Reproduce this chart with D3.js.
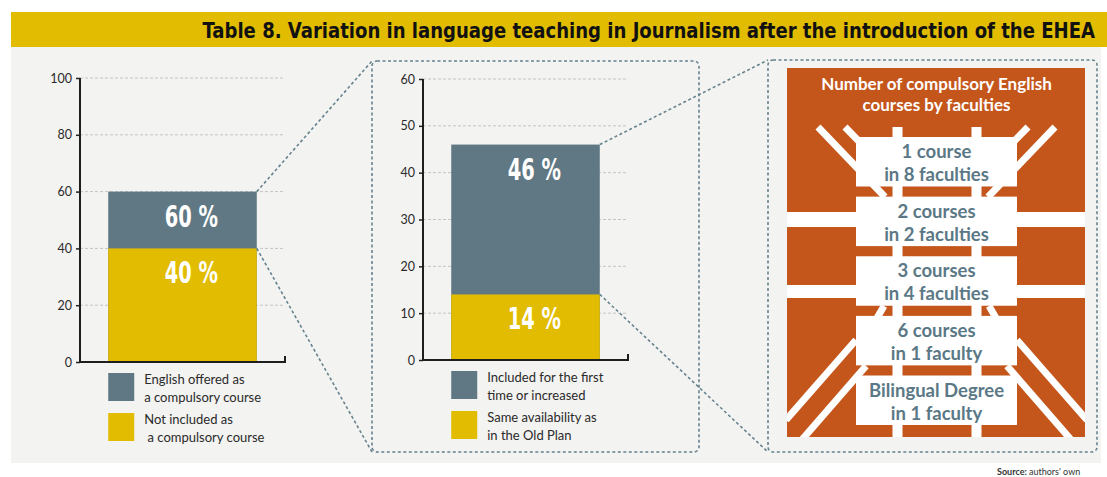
<!DOCTYPE html>
<html>
<head>
<meta charset="utf-8">
<script src="https://cdn.jsdelivr.net/npm/d3@7"></script>
<style>
  html, body { margin: 0; padding: 0; background: #fff; }
  svg { display: block; }
</style>
</head>
<body>
<div id="chart"></div>
<script>
// Data
const titleText = 'Table 8. Variation in language teaching in Journalism after the introduction of the EHEA';
const panel1Series = ['English offered as a compulsory course', 'Not included as a compulsory course'];
const panel1Values = [60, 40];
const panel1Ticks = [0, 20, 40, 60, 80, 100];
const panel1Legend = [['English offered as', 'a compulsory course'], ['Not included as', '\u00a0a compulsory course']];
const panel2Series = ['Included for the first time or increased', 'Same availability as in the Old Plan'];
const panel2Values = [46, 14];
const panel2Ticks = [0, 10, 20, 30, 40, 50, 60];
const panel2Legend = [['Included for the first', 'time or increased'], ['Same availability as', 'in the Old Plan']];
const courseLabels = ['1 course', '2 courses', '3 courses', '6 courses', 'Bilingual Degree'];
const facultyLabels = ['in 8 faculties', 'in 2 faculties', 'in 4 faculties', 'in 1 faculty', 'in 1 faculty'];
const coursesTitle = ['Number of compulsory English', 'courses by faculties'];

const COLORS = {
  slate: '#5f7883',
  yellow: '#e1bc00',
  orange: '#c4561b',
  panel: '#f3f3f1',
  dash: '#66838f',
  grid: '#c4c4c4',
  text: '#2a2a2a',
  boxText: '#5b7886'
};
const narrow = '"DejaVu Sans Condensed", "Liberation Sans", sans-serif';
const body = 'Lato, "Open Sans", sans-serif';

const width = 1107;
const height = 477;

const svg = d3.select('#chart').append('svg')
  .attr('width', width)
  .attr('height', height);

// squeeze a text horizontally around an anchor x
function squeeze (sel, anchorX, k) {
  sel.attr('transform', `translate(${anchorX},0) scale(${k},1) translate(${-anchorX},0)`);
}

// background panel and title band
svg.append('rect')
  .attr('x', 11).attr('y', 46)
  .attr('width', 1090).attr('height', 417)
  .attr('fill', COLORS.panel);

svg.append('rect')
  .attr('x', 11).attr('y', 12)
  .attr('width', width - 11).attr('height', 35)
  .attr('fill', COLORS.yellow);

const title = svg.append('text')
  .attr('x', 1095).attr('y', 38)
  .attr('text-anchor', 'end')
  .attr('font-family', narrow)
  .attr('font-weight', 'bold')
  .attr('font-size', 21)
  .attr('fill', '#111')
  .text(titleText);
const tw = title.node().getComputedTextLength();
squeeze(title, 1095, Math.min(1, 893 / tw));

// source
const src = svg.append('text')
  .attr('x', 997).attr('y', 475)
  .attr('font-family', body)
  .attr('font-size', 9)
  .attr('fill', '#333');
src.append('tspan').attr('font-weight', 'bold').text('Source: ');
src.append('tspan').text("authors' own");

function drawBarPanel (opts) {
  const { x0, yTop, yBottom, max, ticks, series, values, legend } = opts;
  const g = svg.append('g');
  const axisRight = x0 + 205;

  const y = d3.scaleLinear().domain([0, max]).range([yBottom, yTop]);
  const x = d3.scaleBand().domain(['bar']).range([x0, axisRight])
    .paddingInner(0).paddingOuter(0.19);

  // gridlines
  g.append('g')
    .selectAll('line')
    .data(ticks.filter(t => t > 0))
    .join('line')
    .attr('x1', x0).attr('x2', axisRight)
    .attr('y1', d => y(d)).attr('y2', d => y(d))
    .attr('stroke', COLORS.grid)
    .attr('stroke-width', 1)
    .attr('stroke-dasharray', '3,2');

  // overlapping bars, largest first
  const color = d3.scaleOrdinal().domain(series).range([COLORS.slate, COLORS.yellow]);
  g.append('g')
    .selectAll('rect')
    .data(series.map((s, i) => ({ s, v: values[i] })))
    .join('rect')
    .attr('x', x('bar'))
    .attr('width', x.bandwidth())
    .attr('y', d => y(d.v))
    .attr('height', d => y(0) - y(d.v))
    .attr('fill', d => color(d.s));

  const labelX = x('bar') + x.bandwidth() * 0.56;
  g.append('g')
    .selectAll('text')
    .data(values)
    .join('text')
    .attr('x', labelX)
    .attr('y', d => y(d) + 35)
    .attr('text-anchor', 'middle')
    .attr('font-family', narrow)
    .attr('font-weight', 'bold')
    .attr('font-size', 30)
    .attr('fill', '#fff')
    .text(d => d + ' %')
    .each(function () { squeeze(d3.select(this), labelX, 0.72); });

  // axes
  const yAxis = d3.axisLeft(y).tickValues(ticks).tickSize(4).tickPadding(4);
  const ya = g.append('g')
    .attr('transform', `translate(${x0},0)`)
    .call(yAxis);
  ya.select('.domain').remove();
  ya.selectAll('.tick line').attr('stroke', '#222').attr('stroke-width', 1.5);
  ya.selectAll('.tick text')
    .attr('font-family', body)
    .attr('font-size', 12.5)
    .attr('fill', COLORS.text);

  g.append('path')
    .attr('d', `M${x0},${yTop}V${yBottom}H${axisRight}V${yBottom - 6}`)
    .attr('fill', 'none')
    .attr('stroke', '#1e1e1e')
    .attr('stroke-width', 2);

  // legend
  const lg = g.append('g')
    .selectAll('g')
    .data(series)
    .join('g')
    .attr('transform', (d, i) => `translate(${x('bar')},${yBottom + 11 + i * 40})`);
  lg.append('rect')
    .attr('width', 26).attr('height', 28)
    .attr('fill', d => color(d));
  lg.append('text')
    .attr('x', 36)
    .attr('font-family', body)
    .attr('font-size', 13)
    .attr('fill', COLORS.text)
    .selectAll('tspan')
    .data((d, i) => legend[i])
    .join('tspan')
    .attr('x', 36)
    .attr('y', (d, i) => 11 + i * 18)
    .text(d => d);

  return { x, y, barRight: x('bar') + x.bandwidth() };
}

// dashed frames
const dashed = (x, y, w, h) => svg.append('rect')
  .attr('x', x).attr('y', y)
  .attr('width', w).attr('height', h)
  .attr('rx', 5)
  .attr('fill', 'none')
  .attr('stroke', COLORS.dash)
  .attr('stroke-width', 1.6)
  .attr('stroke-dasharray', '3,2.5');

const box2 = { x: 372, y: 61, w: 327, h: 391 };
const box3 = { x: 768, y: 60, w: 329, h: 392 };
dashed(box2.x, box2.y, box2.w, box2.h);
dashed(box3.x, box3.y, box3.w, box3.h);

const p1 = drawBarPanel({
  x0: 80, yTop: 78, yBottom: 362, max: 100,
  ticks: panel1Ticks, series: panel1Series, values: panel1Values, legend: panel1Legend
});
const p2 = drawBarPanel({
  x0: 423, yTop: 79, yBottom: 360, max: 60,
  ticks: panel2Ticks, series: panel2Series, values: panel2Values, legend: panel2Legend
});

// connectors
const connector = (x1, y1, x2, y2) => svg.append('line')
  .attr('x1', x1).attr('y1', y1).attr('x2', x2).attr('y2', y2)
  .attr('stroke', COLORS.dash)
  .attr('stroke-width', 1.6)
  .attr('stroke-dasharray', '3,2.5');

connector(p1.barRight, p1.y(panel1Values[0]), box2.x, box2.y);
connector(p1.barRight, p1.y(panel1Values[1]), box2.x, box2.y + box2.h);
connector(p2.barRight, p2.y(panel2Values[0]), box3.x, box3.y);
connector(p2.barRight, p2.y(panel2Values[1]), box3.x, box3.y + box3.h);

// courses by faculties illustration
const orange = { x: 787, y: 68, w: 298, h: 369 };
const og = svg.append('g');
og.append('clipPath').attr('id', 'oclip')
  .append('rect')
  .attr('x', orange.x).attr('y', orange.y)
  .attr('width', orange.w).attr('height', orange.h);
og.append('rect')
  .attr('x', orange.x).attr('y', orange.y)
  .attr('width', orange.w).attr('height', orange.h)
  .attr('fill', COLORS.orange);

const cx = 936.5;
const deco = og.append('g').attr('clip-path', 'url(#oclip)');

// horizontal bands
[[212, 227], [285, 298]].forEach(([a, b]) => {
  deco.append('rect')
    .attr('x', orange.x).attr('y', a)
    .attr('width', orange.w).attr('height', b - a)
    .attr('fill', '#fff');
});
// rails
[-39, 40].forEach(dx => {
  deco.append('rect')
    .attr('x', cx + dx - 5).attr('y', 127)
    .attr('width', 10).attr('height', orange.y + orange.h - 127)
    .attr('fill', '#fff');
});
// diagonals, mirrored around the centre
const diag = [
  [[818, 127], [885, 197]],
  [[845, 127], [880, 163]],
  [[856, 340], [786, 420]],
  [[866, 366], [800, 442]],
  [[877, 318], [884, 306]]
];
diag.forEach(([a, b]) => {
  [1, -1].forEach(s => {
    deco.append('line')
      .attr('x1', cx + s * (a[0] - cx)).attr('y1', a[1])
      .attr('x2', cx + s * (b[0] - cx)).attr('y2', b[1])
      .attr('stroke', '#fff')
      .attr('stroke-width', 7);
  });
});

og.append('text')
  .attr('text-anchor', 'middle')
  .attr('font-family', body)
  .attr('font-weight', 'bold')
  .attr('font-size', 17)
  .attr('fill', '#fff')
  .selectAll('tspan')
  .data(coursesTitle)
  .join('tspan')
  .attr('x', cx)
  .attr('y', (d, i) => 90 + i * 21)
  .text(d => d);

const yb = d3.scaleBand().domain(courseLabels).range([137, 425]).paddingInner(0.17).paddingOuter(0);
const cb = og.append('g')
  .selectAll('g')
  .data(courseLabels)
  .join('g')
  .attr('transform', d => `translate(0,${yb(d)})`);
cb.append('rect')
  .attr('x', 856).attr('width', 161)
  .attr('height', yb.bandwidth())
  .attr('fill', '#fff');
cb.append('text')
  .attr('text-anchor', 'middle')
  .attr('font-family', body)
  .attr('font-weight', 'bold')
  .attr('font-size', 18.5)
  .attr('fill', COLORS.boxText)
  .selectAll('tspan')
  .data((d, i) => [d, facultyLabels[i]])
  .join('tspan')
  .attr('x', cx)
  .attr('y', (d, i) => 21 + i * 23)
  .text(d => d);
</script>
</body>
</html>
